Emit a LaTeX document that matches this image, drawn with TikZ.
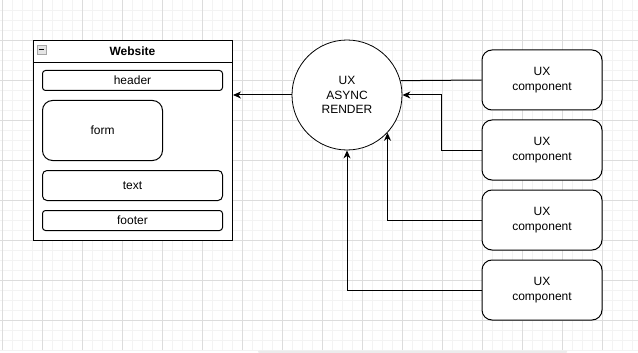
\documentclass[tikz,border=0pt]{standalone}
\usepackage{fontspec}
\setmainfont{Liberation Sans}
\usetikzlibrary{arrows.meta}
\definecolor{gridminor}{HTML}{F3F3F3}
\definecolor{gridmajor}{HTML}{DCDCDC}
\begin{document}
\begin{tikzpicture}[x=1pt,y=-1pt,line width=1pt,
	every node/.style={font=\fontsize{12}{14.5}\selectfont,align=center},
	part/.style={draw,rounded corners=#1,anchor=north west,inner sep=0pt},
	uxbox/.style={draw,rounded corners=10pt,minimum width=120pt,minimum height=60pt,inner sep=0pt},
	arr/.style={-{Stealth[length=8pt,width=7pt,inset=2.5pt]}}]
	\useasboundingbox(0,0)rectangle(638,353);
	\fill[white](0,0)rectangle(638,353);
	\foreach \gx in {2.5,12.5,...,632.5} \draw[gridminor,line width=0.8pt](\gx,0)--(\gx,350);
	\foreach \gy in {10,20,...,350} \draw[gridminor,line width=0.8pt](0,\gy)--(638,\gy);
	\foreach \gx in {2.5,42.5,...,602.5} \draw[gridmajor,line width=0.8pt](\gx,0)--(\gx,350);
	\foreach \gy in {40,80,...,320} \draw[gridmajor,line width=0.8pt](0,\gy)--(638,\gy);
	\fill[gray!15,rounded corners=1pt](258,350.5)rectangle(567,353);
	\node[draw,fill=white,minimum width=199pt,minimum height=200pt,anchor=north west,inner sep=0pt](web)at(33,40){};
	\draw([yshift=-23pt]web.north west)--([yshift=-23pt]web.north east);
	\node[draw=gray!70,fill=gray!20,line width=0.6pt,minimum size=9pt,inner sep=0pt](fold)at(41.5,49.5){};
	\draw([xshift=2pt]fold.west)--([xshift=-2pt]fold.east);
	\node[font=\fontsize{12}{14}\selectfont\bfseries](webtitle)at(132.5,51.5){Website};
	\node[part=3pt,minimum width=180pt,minimum height=20pt](header)at(42,70){header};
	\node[part=10pt,minimum width=120pt,minimum height=60pt](form)at(42,100){form};
	\node[part=4.5pt,minimum width=180pt,minimum height=30pt](text)at(42,170){text};
	\node[part=3pt,minimum width=180pt,minimum height=20pt](footer)at(42,210){footer};
	\node[draw,circle,fill=white,minimum size=110pt,inner sep=0pt,line width=0.8pt](ux)at(347,95){UX\\ASYNC\\RENDER};
	\foreach \i/\cy in {1/80,2/150,3/220,4/290}
		\node[uxbox,fill=white](c\i)at(542,\cy){UX\\component};
	\draw[arr](ux.west)--(ux.west-|web.east);
	\draw(c1.west)--(ux.15.8);
	\draw[arr](c2.west)--++(-40,0)|-(ux.east);
	\draw[arr](c3.west)-|(ux.-43.3);
	\draw[arr](c4.west)-|(ux.south);
\end{tikzpicture}
\end{document}
